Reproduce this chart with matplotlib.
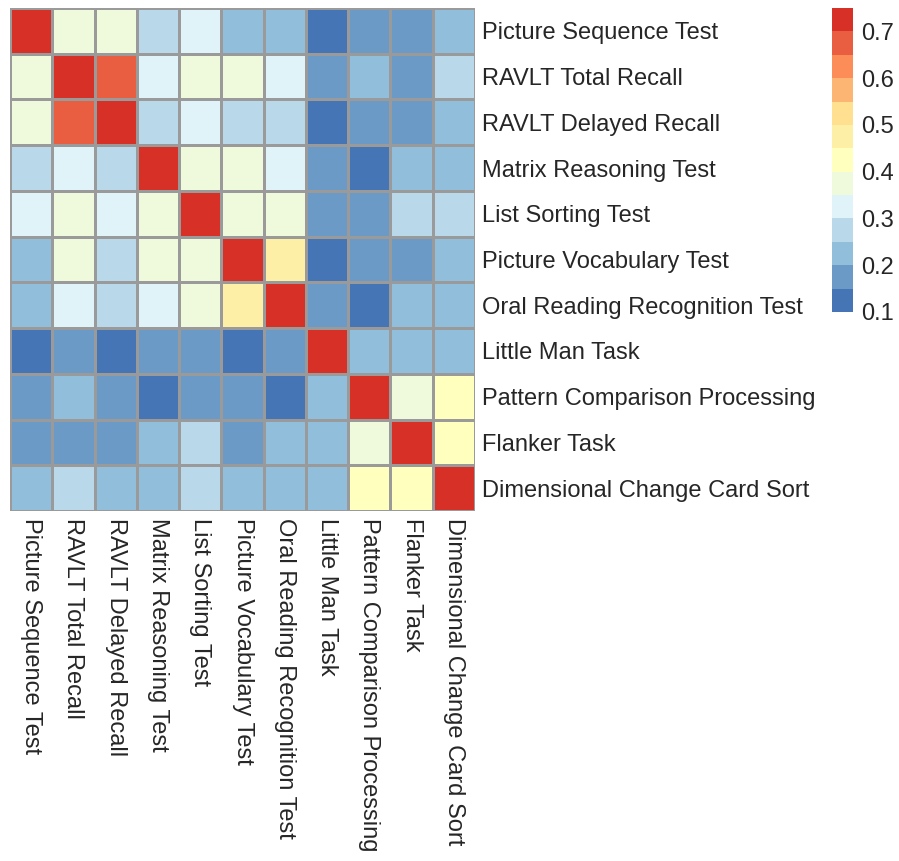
"""Correlation heatmap of cognitive test scores."""
import matplotlib
matplotlib.use("Agg")
import matplotlib.pyplot as plt
import numpy as np
from matplotlib.colors import BoundaryNorm, LinearSegmentedColormap, ListedColormap

tests = [
    "Picture Sequence Test",
    "RAVLT Total Recall",
    "RAVLT Delayed Recall",
    "Matrix Reasoning Test",
    "List Sorting Test",
    "Picture Vocabulary Test",
    "Oral Reading Recognition Test",
    "Little Man Task",
    "Pattern Comparison Processing",
    "Flanker Task",
    "Dimensional Change Card Sort",
]

# pairwise correlations (diagonal capped at the top of the colour scale)
corr = [
    [0.74, 0.38, 0.37, 0.28, 0.32, 0.23, 0.22, 0.13, 0.18, 0.17, 0.23],
    [0.38, 0.74, 0.67, 0.33, 0.37, 0.36, 0.33, 0.18, 0.22, 0.18, 0.27],
    [0.37, 0.67, 0.74, 0.28, 0.31, 0.29, 0.27, 0.12, 0.17, 0.18, 0.24],
    [0.28, 0.33, 0.28, 0.74, 0.37, 0.36, 0.32, 0.17, 0.14, 0.22, 0.23],
    [0.32, 0.37, 0.31, 0.37, 0.74, 0.38, 0.36, 0.18, 0.17, 0.27, 0.28],
    [0.23, 0.36, 0.29, 0.36, 0.38, 0.74, 0.47, 0.13, 0.18, 0.17, 0.23],
    [0.22, 0.33, 0.27, 0.32, 0.36, 0.47, 0.74, 0.17, 0.13, 0.22, 0.22],
    [0.13, 0.18, 0.12, 0.17, 0.18, 0.13, 0.17, 0.74, 0.22, 0.23, 0.23],
    [0.18, 0.22, 0.17, 0.14, 0.17, 0.18, 0.13, 0.22, 0.74, 0.38, 0.42],
    [0.17, 0.18, 0.18, 0.22, 0.27, 0.17, 0.22, 0.23, 0.38, 0.74, 0.43],
    [0.23, 0.27, 0.24, 0.23, 0.28, 0.23, 0.22, 0.23, 0.42, 0.43, 0.74],
]

breaks = [0.10, 0.15, 0.20, 0.25, 0.30, 0.35, 0.40, 0.45, 0.50, 0.55, 0.60, 0.65, 0.70, 0.75]
legend_ticks = [0.1, 0.2, 0.3, 0.4, 0.5, 0.6, 0.7]

# reversed 7-class RdYlBu ramp, cut into one colour per break interval
ramp = LinearSegmentedColormap.from_list(
    "rdylbu_rev",
    ["#4575b4", "#91bfdb", "#e0f3f8", "#ffffbf", "#fee090", "#fc8d59", "#d73027"],
)
cmap = ListedColormap(ramp(np.linspace(0, 1, len(breaks) - 1)))
norm = BoundaryNorm(breaks, cmap.N)

plt.rcParams["font.family"] = ["Liberation Sans", "DejaVu Sans"]
text_color = "#262626"

W, H = 899, 861
fig = plt.figure(figsize=(W / 100, H / 100), dpi=100)
ax = fig.add_axes([10 / W, 1 - 511 / H, 465 / W, 503 / H])

data = np.array(corr)
n = len(tests)
ax.pcolormesh(
    np.arange(n + 1), np.arange(n + 1), data,
    cmap=cmap, norm=norm, edgecolors="#9a9a9a", linewidth=0.9,
)
ax.set_xlim(0, n)
ax.set_ylim(n, 0)
for s in ax.spines.values():
    s.set_visible(False)

ax.yaxis.tick_right()
ax.set_yticks(np.arange(n) + 0.5)
ax.set_yticklabels(tests, fontsize=17, color=text_color)
ax.set_xticks(np.arange(n) + 0.5)
ax.set_xticklabels(tests, fontsize=17, color=text_color, rotation=270,
                   ha="center", va="top")
ax.tick_params(length=0, pad=5)

# colour legend
cax = fig.add_axes([832 / W, 1 - 312 / H, 21 / W, 304 / H])
cb = fig.colorbar(
    plt.cm.ScalarMappable(norm=norm, cmap=cmap), cax=cax,
    boundaries=breaks, ticks=legend_ticks,
)
cb.outline.set_visible(False)
cb.ax.minorticks_off()
cb.ax.tick_params(which="both", length=0, pad=6, labelsize=17, labelcolor=text_color)
cb.ax.set_yticklabels([f"{t:.1f}" for t in legend_ticks])

fig.savefig("out.png", dpi=100)
